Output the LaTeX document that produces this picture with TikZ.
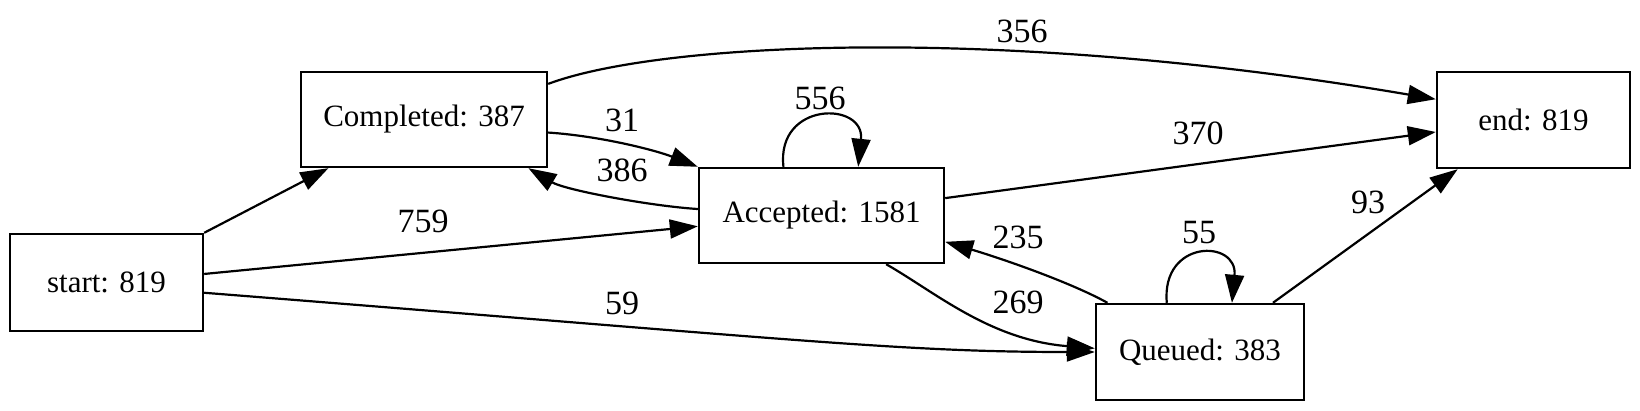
\documentclass[tikz,border=0pt]{standalone}
\usepackage{fontspec}
\setmainfont{Liberation Serif}
\usepackage{tikz}
\usetikzlibrary{arrows.meta}

\begin{document}
\begin{tikzpicture}[>={Triangle[length=14pt,width=9.5pt]}, x=0.5pt, y=-0.5pt,
    state/.style={draw, line width=1.2pt, inner sep=0pt, font=\fontsize{15.5}{18}\selectfont},
    lbl/.style={inner sep=0pt, font=\fontsize{17}{20}\selectfont},
    edge/.style={->, line width=1.1pt}]
    \useasboundingbox (0,0) rectangle (1640,411);

    % Các trạng thái
    \node[state, minimum width=96.5pt, minimum height=48.5pt] (start) at (106.5,282.5) {start: 819};
    \node[state, minimum width=123pt, minimum height=47.5pt] (completed) at (424,119.5) {Completed: 387};
    \node[state, minimum width=122.5pt, minimum height=47.5pt] (accepted) at (821.5,215.5) {Accepted: 1581};
    \node[state, minimum width=104pt, minimum height=48pt] (queued) at (1200,352) {Queued: 383};
    \node[state, minimum width=96.5pt, minimum height=48pt] (end) at (1533.5,120) {end: 819};

    % Các cạnh
    \draw[edge] (start.north east) -- (completed.207);
    \draw[edge] (start.5) -- (accepted.185);
    \draw[edge] (start.-6) .. controls (802,340) and (900,352) .. (queued.west);
    \draw[edge] (completed.16) .. controls (660,42) and (1000,25) .. (end.168);
    \draw[edge] (completed.-6) .. controls (600,136) and (655,150) .. (accepted.north west);
    \draw[edge] (accepted.177) .. controls (650,206) and (565,190) .. (completed.-25);
    \draw[edge] (accepted.128) .. controls (776,101) and (865,101) .. (accepted.53);
    \draw[edge] (accepted.8) -- (end.187);
    \draw[edge] (queued.152) .. controls (1070,282) and (1000,258) .. (accepted.-12);
    \draw[edge] (accepted.-37) .. controls (935,292) and (990,340) .. (queued.178);
    \draw[edge] (queued.124) .. controls (1161,239) and (1238,239) .. (queued.57);
    \draw[edge] (queued.34) -- (end.213);

    % Nhãn
    \node[lbl] (l356) at (1022,31) {356};
    \node[lbl] (l31) at (622,120) {31};
    \node[lbl] (l386) at (622,170) {386};
    \node[lbl] (l556) at (820,98) {556};
    \node[lbl] (l370) at (1198,133) {370};
    \node[lbl] (l759) at (423,221) {759};
    \node[lbl] (l59) at (622,303) {59};
    \node[lbl] (l235) at (1018,237) {235};
    \node[lbl] (l269) at (1018,302) {269};
    \node[lbl] (l55) at (1199,233) {55};
    \node[lbl] (l93) at (1368,202) {93};
\end{tikzpicture}
\end{document}
